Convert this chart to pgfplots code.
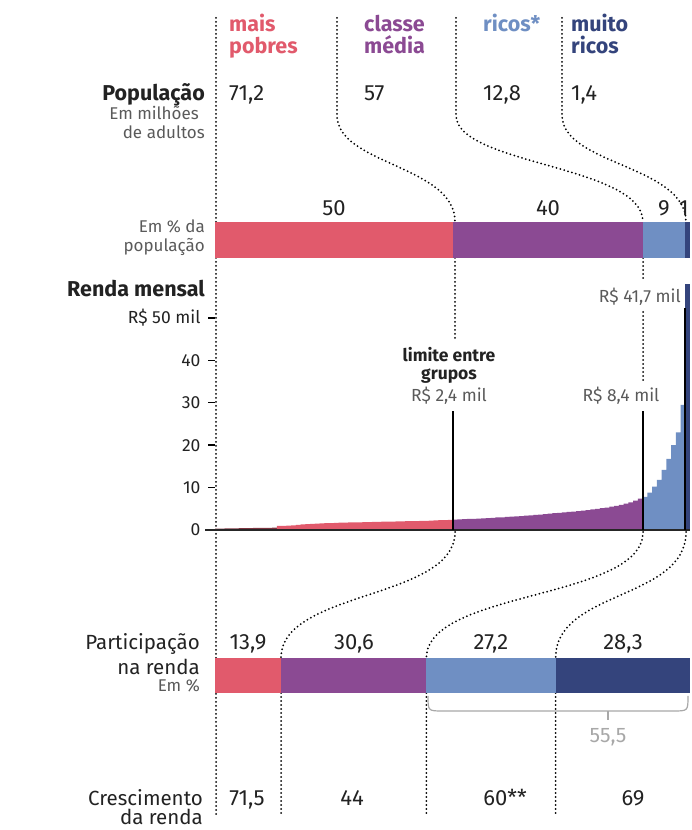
\documentclass[border=0pt]{standalone}
\usepackage{fontspec}
\setmainfont{Fira Sans}
\IfFontExistsTF{FiraSans-Medium.otf}
  {\newfontfamily\medfont{FiraSans-Medium.otf}}
  {\newcommand\medfont{\bfseries}}
\usepackage{pgfplots}
\usepackage{pgfplotstable}
\pgfplotsset{compat=1.18}

\definecolor{cRed}{HTML}{E15A6C}
\definecolor{cDk}{HTML}{7E3440}
\definecolor{cPur}{HTML}{8B4A93}
\definecolor{cLb}{HTML}{6F8FC3}
\definecolor{cDb}{HTML}{34447C}
\definecolor{txt}{HTML}{222222}
\definecolor{gry}{HTML}{5A5A5A}
\definecolor{lgry}{HTML}{A8A8A8}

\newcommand\fA{\fontsize{20.5}{22}\selectfont}
\newcommand\fN{\fontsize{22}{24}\selectfont}
\newcommand\fB{\fontsize{17}{19}\selectfont}
\newcommand\fC{\fontsize{17.5}{19}\selectfont}

% renda mensal por percentil (R$ mil)
\pgfplotstableread{
p v
1 0.35
2 0.35
3 0.4
4 0.4
5 0.4
6 0.45
7 0.45
8 0.45
9 0.5
10 0.5
11 0.5
12 0.5
13 0.55
}\rendaBase
\pgfplotstableread{
p v
14 0.95
15 1.0
16 1.05
17 1.1
18 1.2
19 1.3
20 1.4
21 1.45
22 1.5
23 1.55
24 1.6
25 1.65
26 1.7
27 1.72
28 1.75
29 1.78
30 1.8
31 1.82
32 1.85
33 1.87
34 1.9
35 1.92
36 1.95
37 1.97
38 2.0
39 2.02
40 2.05
41 2.08
42 2.1
43 2.12
44 2.15
45 2.18
46 2.2
47 2.25
48 2.3
49 2.35
50 2.4
}\rendaPobres
\pgfplotstableread{
p v
51 2.45
52 2.5
53 2.55
54 2.6
55 2.65
56 2.7
57 2.75
58 2.8
59 2.87
60 2.95
61 3.0
62 3.07
63 3.15
64 3.22
65 3.3
66 3.38
67 3.46
68 3.55
69 3.65
70 3.75
71 3.85
72 3.95
73 4.05
74 4.15
75 4.25
76 4.35
77 4.45
78 4.55
79 4.7
80 4.85
81 5.0
82 5.15
83 5.3
84 5.5
85 5.7
86 5.95
87 6.2
88 6.5
89 6.9
90 7.4
}\rendaMedia
\pgfplotstableread{
p v
91 7.8
92 8.8
93 10.2
94 11.8
95 14.2
96 16.8
97 20.0
98 23.0
99 29.5
}\rendaRicos
\pgfplotstableread{
p v
100 58
}\rendaTopo

\begin{document}
\begin{tikzpicture}[
  dots/.style={draw=black, line width=2pt, line cap=round, dash pattern=on 0pt off 4pt},
  lab/.style={font=\fA, text=txt, inner sep=0pt},
  num/.style={font=\fN, text=txt, inner sep=0pt},
  sml/.style={font=\fB, text=gry, inner sep=0pt},
  hd/.style={font=\fontsize{21.5}{23}\selectfont\medfont, inner sep=0pt, anchor=base west}]
\useasboundingbox (0,0) rectangle (691pt,830pt);

% linhas pontilhadas
\draw[dots] (216pt,812pt) -- (216pt,15pt);
\draw[dots] (337pt,812pt) -- (337pt,715pt) .. controls (337pt,665pt) and (455pt,665pt) .. (455pt,608pt);
\draw[dots] (456pt,812pt) -- (456pt,715pt) .. controls (456pt,665pt) and (643pt,665pt) .. (643pt,608pt);
\draw[dots] (562pt,812pt) -- (562pt,715pt) .. controls (562pt,665pt) and (686pt,665pt) .. (686pt,608pt);
\draw[dots] (455pt,572pt) -- (455pt,490pt);
\draw[dots] (643pt,572pt) -- (643pt,550pt);
\draw[dots] (643pt,518pt) -- (643pt,450pt);
\draw[dots] (455pt,298pt) .. controls (455pt,230pt) and (281pt,240pt) .. (281pt,172pt);
\draw[dots] (643pt,298pt) .. controls (643pt,230pt) and (426.4pt,240pt) .. (426.4pt,172pt);
\draw[dots] (686pt,298pt) .. controls (686pt,230pt) and (555.6pt,240pt) .. (555.6pt,172pt);
\draw[dots] (281pt,137pt) -- (281pt,15pt);
\draw[dots] (426.4pt,137pt) -- (426.4pt,15pt);
\draw[dots] (555.6pt,137pt) -- (555.6pt,15pt);

% populacao em %
\begin{axis}[at={(215pt,572pt)}, anchor=south west, scale only axis,
  width=475pt, height=36pt, xmin=0, xmax=100, ymin=-0.5, ymax=0.5,
  hide axis, xbar stacked, bar width=36pt, clip=false]
\addplot[fill=cRed, draw=none] coordinates {(50,0)};
\addplot[fill=cPur, draw=none] coordinates {(40,0)};
\addplot[fill=cLb, draw=none] coordinates {(9,0)};
\addplot[fill=cDb, draw=none] coordinates {(1,0)};
\end{axis}

% renda mensal
\begin{axis}[at={(215pt,300pt)}, anchor=south west, scale only axis,
  width=475pt, height=212pt, xmin=0, xmax=100, ymin=0, ymax=50,
  clip=false, hide x axis, axis y line*=left,
  y axis line style={draw=none},
  ytick={0,10,20,30,40,50},
  yticklabels={0,10,20,30,40,R\$ 50 mil},
  tick align=outside, major tick length=7pt,
  tick style={line width=1.4pt, black},
  yticklabel style={font=\fC, text=txt, xshift=-4pt}]
\addplot[ybar, bar width=1, bar shift=0pt, fill=cDk, draw=none] table[x expr=\thisrow{p}-0.5, y=v] {\rendaBase};
\addplot[ybar, bar width=1, bar shift=0pt, fill=cRed, draw=none] table[x expr=\thisrow{p}-0.5, y=v] {\rendaPobres};
\addplot[ybar, bar width=1, bar shift=0pt, fill=cPur, draw=none] table[x expr=\thisrow{p}-0.5, y=v] {\rendaMedia};
\addplot[ybar, bar width=1, bar shift=0pt, fill=cLb, draw=none] table[x expr=\thisrow{p}-0.5, y=v] {\rendaRicos};
\addplot[ybar, bar width=1, bar shift=0pt, fill=cDb, draw=none] table[x expr=\thisrow{p}-0.5, y=v] {\rendaTopo};
\draw[line width=1.4pt, black!85] (axis cs:-2.1,0) -- (axis cs:100,0);
\draw[line width=2pt, black] (axis cs:50,0) -- (axis cs:50,28);
\draw[line width=2pt, black] (axis cs:90,0) -- (axis cs:90,28);
\draw[line width=2pt, black] (axis cs:99,0) -- (axis cs:99,52.4);
\end{axis}

% participacao na renda
\begin{axis}[at={(215pt,137pt)}, anchor=south west, scale only axis,
  width=475pt, height=35pt, xmin=0, xmax=100, ymin=-0.5, ymax=0.5,
  hide axis, xbar stacked, bar width=35pt, clip=false]
\addplot[fill=cRed, draw=none] coordinates {(13.9,0)};
\addplot[fill=cPur, draw=none] coordinates {(30.6,0)};
\addplot[fill=cLb, draw=none] coordinates {(27.2,0)};
\addplot[fill=cDb, draw=none] coordinates {(28.3,0)};
\end{axis}

% cabecalho
\node[hd, text=cRed] at (229pt,798pt) {mais};
\node[hd, text=cRed] at (229pt,776pt) {pobres};
\node[hd, text=cPur] at (364pt,798pt) {classe};
\node[hd, text=cPur] at (364pt,776pt) {média};
\node[hd, text=cLb] at (483pt,798pt) {ricos*};
\node[hd, text=cDb] at (571pt,798pt) {muito};
\node[hd, text=cDb] at (571pt,776pt) {ricos};

\node[lab, anchor=base east, font=\fontsize{21.5}{23}\selectfont\bfseries] at (205pt,729pt) {População};
\node[sml, anchor=base east] at (199pt,710pt) {Em milhões};
\node[sml, anchor=base east] at (205pt,691pt) {de adultos};
\node[num, anchor=base west] at (229pt,729pt) {71,2};
\node[num, anchor=base west] at (364pt,729pt) {57};
\node[num, anchor=base west] at (483pt,729pt) {12,8};
\node[num, anchor=base west] at (571pt,729pt) {1,4};

\node[sml, anchor=base east] at (205pt,597pt) {Em \% da};
\node[sml, anchor=base east] at (205pt,578pt) {população};
\node[num, anchor=base] at (334pt,614pt) {50};
\node[num, anchor=base] at (548pt,614pt) {40};
\node[num, anchor=base] at (664pt,614pt) {9};
\node[num, anchor=base] at (684pt,614pt) {1};

\node[lab, anchor=base east, font=\fontsize{21.5}{23}\selectfont\bfseries] at (205pt,533pt) {Renda mensal};
\node[lab, anchor=base, font=\fC\bfseries] at (449pt,468pt) {limite entre};
\node[lab, anchor=base, font=\fC\bfseries] at (449pt,450pt) {grupos};
\node[lab, anchor=base, font=\fC, text=gry] at (449pt,428pt) {R\$ 2,4 mil};
\node[lab, anchor=base, font=\fC, text=gry] at (621pt,428pt) {R\$ 8,4 mil};
\node[lab, anchor=base east, font=\fC, text=gry] at (681pt,527pt) {R\$ 41,7 mil};

\node[lab, anchor=base east] at (200pt,180pt) {Participação};
\node[lab, anchor=base east] at (200pt,155pt) {na renda};
\node[sml, anchor=base east] at (200pt,138pt) {Em \%};
\node[num, anchor=base] at (248pt,180pt) {13,9};
\node[num, anchor=base] at (354pt,180pt) {30,6};
\node[num, anchor=base] at (491pt,180pt) {27,2};
\node[num, anchor=base] at (623pt,180pt) {28,3};

\draw[lgry, line width=1.2pt] (428pt,134pt) .. controls (428pt,119pt) .. (443pt,119pt) -- (673pt,119pt) .. controls (688pt,119pt) .. (688pt,134pt);
\draw[lgry, line width=1.2pt] (608pt,119pt) -- (608pt,110pt);
\node[lab, anchor=base, font=\fontsize{21}{23}\selectfont, text=lgry] at (608pt,87pt) {55,5};

\node[lab, anchor=base east] at (203pt,24pt) {Crescimento};
\node[lab, anchor=base east] at (203pt,5.5pt) {da renda};
\node[num, anchor=base] at (247pt,24pt) {71,5};
\node[num, anchor=base] at (352pt,24pt) {44};
\node[num, anchor=base] at (505pt,24pt) {60**};
\node[num, anchor=base] at (633pt,24pt) {69};
\end{tikzpicture}
\end{document}
